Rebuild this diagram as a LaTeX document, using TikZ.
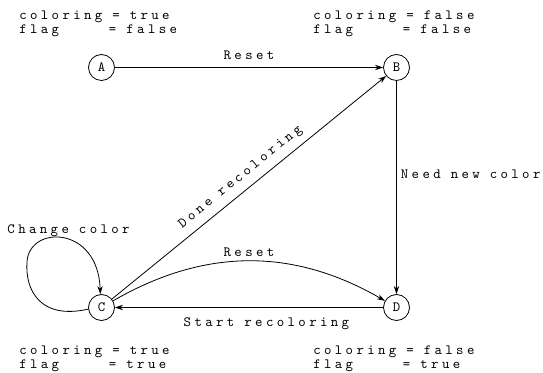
\documentclass[tikz,border=0pt]{standalone}
\usepackage{fontspec}
\usetikzlibrary{arrows.meta}
\lineskiplimit=-100pt
\newfontfamily\reffont{Latin Modern Mono}[LetterSpace=24]
\newcommand{\reffontsetup}{\reffont\fontsize{10.6}{10.5}\selectfont\spaceskip=7.5pt\relax}
\begin{document}
\begin{tikzpicture}[x=0.75pt,y=-0.75pt,
  font=\reffontsetup,
  state/.style={draw, circle, minimum size=19.5pt, inner sep=0pt, line width=0.6pt},
  edge/.style={-{Stealth[length=6pt,width=4pt]}, line width=0.6pt},
  lbl/.style={inner sep=0pt},
  vars/.style={align=left, anchor=north west, inner sep=0pt}]
\useasboundingbox (0,0) rectangle (543,373);
% states
\node[state] (A) at (101.5,67.5) {A};
\node[state] (B) at (396.5,67.5) {B};
\node[state] (C) at (101.5,307.5) {C};
\node[state] (D) at (396.5,307.5) {D};
% variable blocks
\node[vars] (vA) at (19,11) {coloring = true\\flag\phantom{ring} = false};
\node[vars] (vB) at (313,11) {coloring = false\\flag\phantom{ring} = false};
\node[vars] (vC) at (19,346) {coloring = true\\flag\phantom{ring} = true};
\node[vars] (vD) at (313,346) {coloring = false\\flag\phantom{ring} = true};
% transitions
\draw[edge] (A) -- node[lbl, above=5.6pt] {Reset} (B);
\draw[edge] (B) -- node[lbl, right=3pt, pos=0.44] {Need new color} (D);
\draw[edge] (D) -- node[lbl, below=7.5pt, pos=0.435] {Start recoloring} (C);
\draw[edge] (C) -- node[lbl, sloped, above=5.1pt] {Done recoloring} (B);
\draw[edge] (C) to[bend left=30] node[lbl, above=3.2pt] {Reset} (D);
\draw[edge] (C.187) .. controls (40,320) and (25,290) .. (27,262)
  .. controls (29,225) and (98,225) .. node[lbl, above=1.2pt, xshift=3.75pt, pos=0.5] {Change color} (C.95);
\end{tikzpicture}
\end{document}
